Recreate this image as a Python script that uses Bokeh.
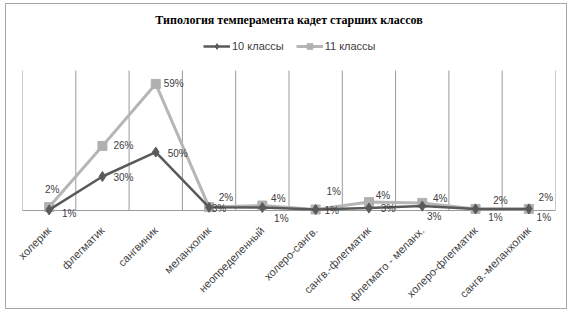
from bokeh.plotting import figure
from bokeh.models import (ColumnDataSource, FixedTicker, Range1d, Legend, LegendItem, Label, LabelSet, Span)
from bokeh.core.properties import value
from bokeh.embed import file_html
from bokeh.resources import INLINE
import math

categories = ["холерик", "флегматик", "сангвиник", "меланхолик", "неопределенный",
              "холеро-сангв.", "сангв.-флегматик", "флегмато - меланх.",
              "холеро-флегматик", "сангв.-меланхолик"]
# plotted values (read from point heights; value axis 0..70, hidden)
values_10 = [0.3, 17.0, 29.2, 1.6, 1.5, 0.5, 1.2, 2.2, 0.8, 0.8]
values_11 = [1.7, 32.3, 63.3, 1.7, 2.5, 0.5, 4.2, 3.8, 0.8, 0.8]
# data labels as shown
labels_10 = ["1%", "30%", "50%", "3%", "1%", "1%", "3%", "3%", "1%", "1%"]
labels_11 = ["2%", "26%", "59%", "2%", "4%", "1%", "4%", "4%", "2%", "2%"]
series_names = ["10 классы", "11 классы"]
title_text = "Типология темперамента кадет старших классов"
axis_max = 70

# label offsets (screen px, y positive = up) - styling only
off_10 = [(20, -4), (21, -1), (22, -1), (10, -1), (19, -11), (16, -1), (19, 0), (12, -10), (20, -9), (15, -9)]
off_11 = [(3, 18), (21, 0), (18, 0), (17, 10), (16, 7), (18, 18), (14, 7), (18, 4), (25, 8), (17, 11)]

n = len(categories)
xs = [i + 0.5 for i in range(n)]

C10 = "#5a5a5a"
C11 = "#b6b6b6"
GRID = "#9a9a9a"
TXT = "#404040"

p = figure(width=562, height=306, output_backend="svg", toolbar_location=None,
           x_range=Range1d(0, n), y_range=Range1d(-7, 101),
           min_border_left=16, min_border_right=13, min_border_top=4, min_border_bottom=84)
p.margin = (3, 0, 0, 5)
p.styles = {"border": "1px solid #a6a6a6"}
p.outline_line_color = None
p.xgrid.visible = False
p.ygrid.visible = False
p.yaxis.visible = False

# category axis baseline and vertical gridlines at category boundaries
p.add_layout(Span(location=0, dimension="width", line_color=GRID, line_width=1, level="underlay"))
p.segment(x0=list(range(n + 1)), y0=[0] * (n + 1), x1=list(range(n + 1)), y1=[axis_max] * (n + 1),
          line_color=GRID, line_width=1)

ax = p.xaxis[0]
ax.ticker = FixedTicker(ticks=xs)
ax.major_label_overrides = {x: c for x, c in zip(xs, categories)}
ax.major_label_orientation = math.pi / 4
ax.major_tick_line_color = None
ax.minor_tick_line_color = None
ax.axis_line_color = None
ax.major_label_text_font = "Liberation Sans"
ax.major_label_text_font_size = "11px"
ax.major_label_text_color = TXT
ax.major_label_standoff = -2

s10 = ColumnDataSource(dict(x=xs, y=values_10, t=labels_10,
                            dx=[o[0] for o in off_10], dy=[o[1] for o in off_10]))
s11 = ColumnDataSource(dict(x=xs, y=values_11, t=labels_11,
                            dx=[o[0] for o in off_11], dy=[o[1] for o in off_11]))

l11 = p.line("x", "y", source=s11, line_color=C11, line_width=3)
m11 = p.scatter("x", "y", source=s11, marker="square", size=9, fill_color="#b0b0b0", line_color="#b0b0b0")
l10 = p.line("x", "y", source=s10, line_color=C10, line_width=2.5)
m10 = p.scatter("x", "y", source=s10, marker="diamond", size=10, fill_color=C10, line_color=C10)

for s in (s11, s10):
    p.add_layout(LabelSet(x="x", y="y", text="t", source=s, x_offset="dx", y_offset="dy",
                          text_align="center", text_baseline="middle", level="overlay",
                          text_font=value("Liberation Sans"), text_font_size=value("10px"),
                          text_color=TXT))

p.add_layout(Label(x=n / 2, y=95.5, text=title_text, text_align="center", text_baseline="middle",
                   text_font="Liberation Serif", text_font_style="bold", text_font_size="12px",
                   text_color="#000000"))

legend = Legend(items=[LegendItem(label=series_names[0], renderers=[l10, m10]),
                       LegendItem(label=series_names[1], renderers=[l11, m11])],
                orientation="horizontal", location=(181, 171),
                padding=0, margin=0, spacing=12, glyph_width=27, glyph_height=14,
                label_standoff=2, border_line_color=None, background_fill_alpha=0,
                label_text_font="Liberation Sans", label_text_font_size="11px",
                label_text_color=TXT)
p.add_layout(legend)

open("out.html", "w").write(file_html(p, INLINE))
